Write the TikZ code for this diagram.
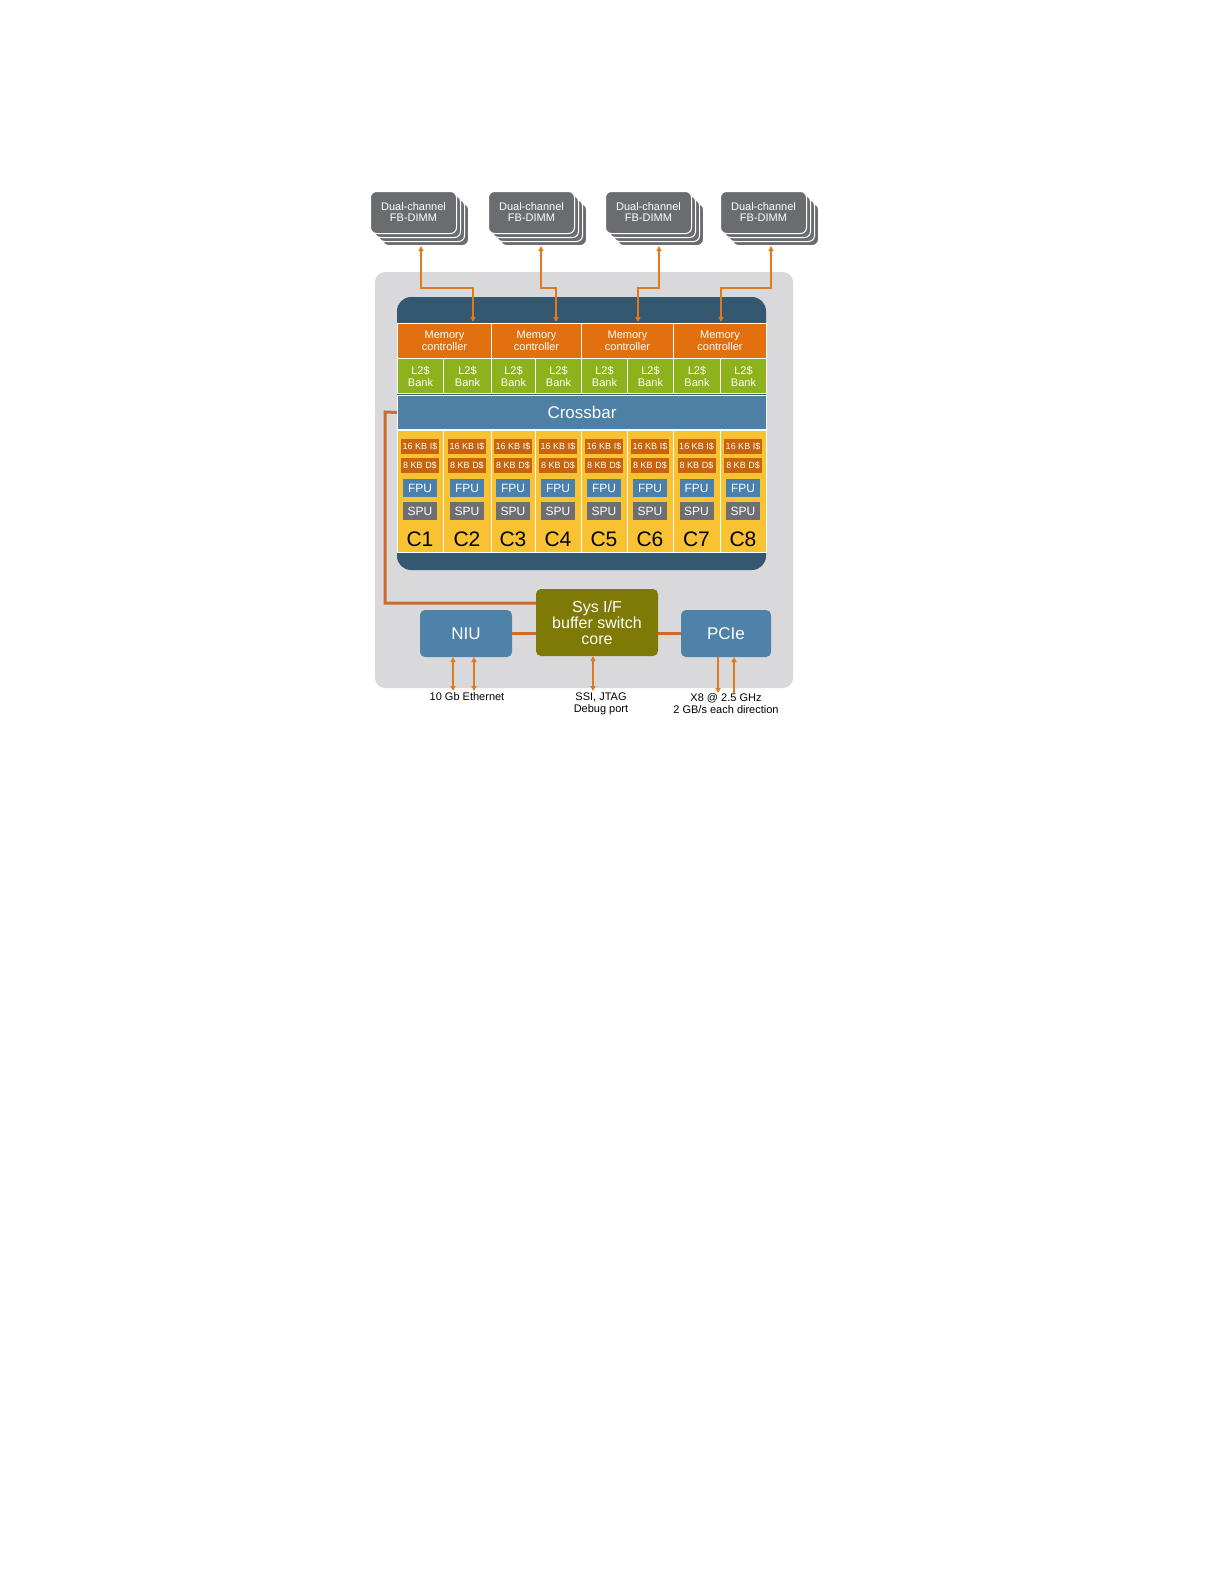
\documentclass[tikz,border=0pt]{standalone}
\usepackage{fontspec}
\setmainfont{Liberation Sans}
\usetikzlibrary{arrows.meta}
\definecolor{outerg}{HTML}{D9D9DB}
\definecolor{darkb}{HTML}{345870}
\definecolor{memo}{HTML}{E2700E}
\definecolor{l2g}{HTML}{8DB21C}
\definecolor{xbar}{HTML}{4E7FA5}
\definecolor{corey}{HTML}{F9C232}
\definecolor{cacheo}{HTML}{C8640C}
\definecolor{fpub}{HTML}{4A80AE}
\definecolor{spug}{HTML}{6E6F72}
\definecolor{dimg}{HTML}{6B6C6F}
\definecolor{olive}{HTML}{7F7A06}
\definecolor{blk}{HTML}{4F82A8}
\definecolor{arr}{HTML}{E07A1E}
\definecolor{wire}{HTML}{CF6A2A}
\tikzset{
 dimm/.style={draw=white,line width=1pt,fill=dimg,rounded corners=6pt,minimum width=86pt,minimum height=42pt,text=white,font=\fontsize{11}{11}\selectfont,align=center,inner sep=0},
 cell/.style={draw=white,line width=1pt,minimum height=#1,inner sep=0,text=white,align=center},
 cachebox/.style={fill=cacheo,minimum width=38pt,minimum height=15pt,inner sep=0,text=white,font=\fontsize{9}{9}\selectfont},
 unitbox/.style={minimum width=34pt,minimum height=18pt,inner sep=0,text=white,font=\fontsize{12}{12}\selectfont},
 blkbox/.style={fill=blk,rounded corners=5pt,text=white,inner sep=0,font=\fontsize{17}{17}\selectfont},
 darr/.style={arr,line width=1.6pt,{Triangle[length=5pt,width=5pt]}-{Triangle[length=5pt,width=5pt]}},
 sarr/.style={arr,line width=1.6pt,-{Triangle[length=5pt,width=5pt]}},
 wireline/.style={wire,line width=3pt},
 lbl/.style={font=\fontsize{11}{12}\selectfont,align=center,inner sep=0}
}
\begin{document}
\begin{tikzpicture}[x=1pt,y=-1pt]
\useasboundingbox (0,0) rectangle (1225,1585);
\fill[white] (0,0) rectangle (1225,1585);
% outer
\fill[outerg,rounded corners=10pt] (375,272) rectangle (793,688);
\fill[darkb,rounded corners=14pt] (397,297) rectangle (766,570);
% DIMMs
\foreach \x/\n in {370/d1,488/d2,605/d3,720/d4}{
 \foreach \o in {12,8,4}{\node[dimm,anchor=north west] at (\x+\o,191+\o) {};}
 \node[dimm,anchor=north west] (\n) at (\x,191) {Dual-channel\\FB-DIMM};
}
% memory controllers
\foreach \a/\b/\n in {397/491/m1,491/581/m2,581/673/m3,673/766/m4}{
 \node[cell=35pt,fill=memo,minimum width={\b-\a},anchor=north west,font=\fontsize{11}{12}\selectfont] (\n) at (\a,323) {Memory\\controller};
}
% L2 and cores
\foreach \a/\b/\i in {397/443/1,443/491/2,491/535/3,535/581/4,581/627/5,627/673/6,673/720/7,720/766/8}{
 \node[cell=35pt,fill=l2g,minimum width={\b-\a},anchor=north west,font=\fontsize{11}{12}\selectfont] (l\i) at (\a,358) {L2\$\\Bank};
 \node[cell=122pt,fill=corey,minimum width={\b-\a},anchor=north west] (c\i) at (\a,430) {};
 \node[cachebox] (ic\i) at ({(\a+\b)/2},446) {16 KB I\$};
 \node[cachebox] (dc\i) at ({(\a+\b)/2},465) {8 KB D\$};
 \node[unitbox,fill=fpub] (f\i) at ({(\a+\b)/2},488) {FPU};
 \node[unitbox,fill=spug] (s\i) at ({(\a+\b)/2},511) {SPU};
 \node[font=\fontsize{21}{21}\selectfont,inner sep=0] (cl\i) at ({(\a+\b)/2},539) {C\i};
}
\node[cell=34pt,fill=xbar,minimum width=369pt,anchor=north west,font=\fontsize{17}{17}\selectfont] (xb) at (397,395) {Crossbar};
% bottom blocks
\node[blkbox,fill=olive,minimum width=122pt,minimum height=67pt,align=center,font=\fontsize{16}{16}\selectfont] (sys) at (597,622.5) {Sys I/F\\buffer switch\\core};
\node[blkbox,minimum width=92pt,minimum height=47pt] (niu) at (466,633.5) {NIU};
\node[blkbox,minimum width=90pt,minimum height=47pt] (pcie) at (726,633.5) {PCIe};
\draw[wireline] (niu.east) -- (sys.west|-niu.east);
\draw[wireline] (pcie.west) -- (sys.east|-pcie.west);
\draw[wireline] (xb.west) -- (385,412) -- (385,603) -- (sys.west|-0,603);
% memory arrows
\draw[darr] (421,246) -- (421,288) -- (473,288) -- (473,322);
\draw[darr] (541,246) -- (541,288) -- (556,288) -- (556,322);
\draw[darr] (659,246) -- (659,288) -- (638,288) -- (638,322);
\draw[darr] (771,246) -- (771,288) -- (721,288) -- (721,322);
% bottom arrows and labels
\node[lbl] (eth) at (467,697) {10 Gb Ethernet};
\node[lbl] (ssi) at (601,704) {SSI, JTAG\\Debug port};
\node[lbl] (x8) at (726,704) {X8 @ 2.5 GHz\\2 GB/s each direction};
\draw[darr] (453,657) -- (453,691);
\draw[darr] (474,657) -- (474,691);
\draw[darr] (593,656) -- (593,691);
\draw[sarr] (718,657) -- (718,693);
\draw[sarr] (734,693) -- (734,657);
\end{tikzpicture}
\end{document}
